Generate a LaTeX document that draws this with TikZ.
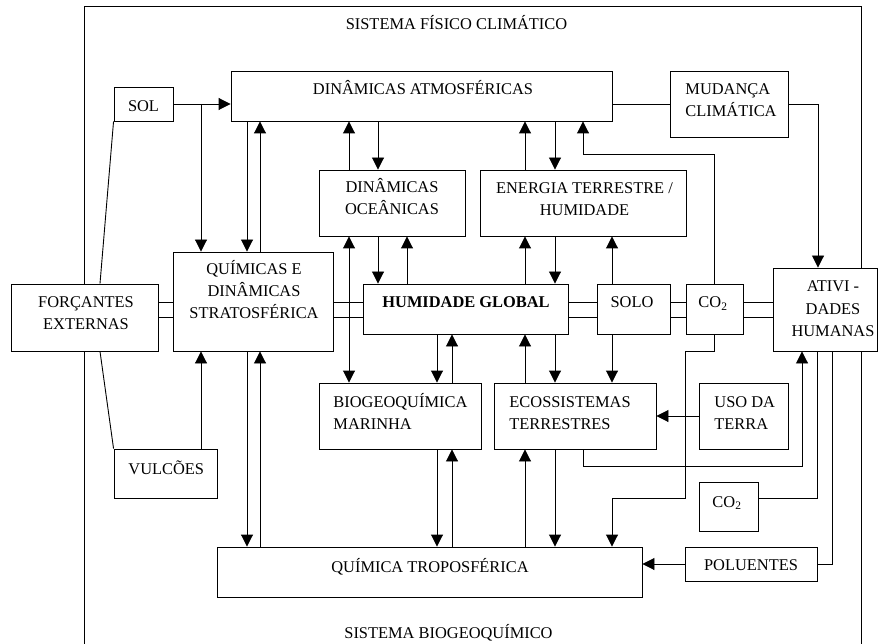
\documentclass[tikz,border=0pt]{standalone}
\usepackage{fontspec}
\setmainfont{Liberation Serif}
\usetikzlibrary{arrows.meta,fit}
\newcommand\txc[1]{\begin{tabular}[t]{@{}c@{}}#1\end{tabular}}
\newcommand\txl[1]{\begin{tabular}[t]{@{}l@{}}#1\end{tabular}}
\begin{document}
\begin{tikzpicture}[x=1pt,y=-1pt,
 line width=0.9pt,
 box/.style={draw, fill=white, inner sep=0pt, line width=0.9pt},
 lbl/.style={inner sep=0pt, anchor=base, font=\fontsize{16.4}{22}\selectfont},
 lbll/.style={lbl, anchor=base west},
 arr/.style={-{Triangle[length=12pt,width=12pt]}},
 darr/.style={{Triangle[length=12pt,width=12pt]}-{Triangle[length=12pt,width=12pt]}},
]
\fill[white] (0,0) rectangle (878,644);
\useasboundingbox (0,0) rectangle (878,644);
% outer frame
\draw (84,644) -- (84,6) -- (861,6) -- (861,644);
% boxes
\node[box, fit={(114,87)(173,121)}] (sol) {};
\node[box, fit={(231,71)(612,121)}] (da) {};
\node[box, fit={(670,71)(788,137)}] (mud) {};
\node[box, fit={(319,170)(465,236)}] (doc) {};
\node[box, fit={(480,170)(686,236)}] (eth) {};
\node[box, fit={(11,284)(158,351)}] (forc) {};
\node[box, fit={(173,252)(333,351)}] (qui) {};
\node[box, fit={(363,284)(568,334)}] (hg) {};
\node[box, fit={(597,284)(670,334)}] (solo) {};
\node[box, fit={(686,284)(743,334)}] (co2a) {};
\node[box, fit={(773,268)(877.5,351)}] (ativ) {};
\node[box, fit={(319,383)(481,449)}] (bio) {};
\node[box, fit={(494,383)(656,449)}] (eco) {};
\node[box, fit={(699,383)(788,449)}] (uso) {};
\node[box, fit={(114,449)(217,498)}] (vul) {};
\node[box, fit={(699,482)(758,531)}] (co2b) {};
\node[box, fit={(685,547)(817,581)}] (pol) {};
\node[box, fit={(217,547)(642,597)}] (qt) {};
% texts
\node[lbl] (t-sfc) at (456.5,30) {SISTEMA FÍSICO CLIMÁTICO};
\node[lbl] (t-sbq) at (448.5,638) {SISTEMA BIOGEOQUÍMICO};
\node[lbl] (t-sol) at (143.5,112) {SOL};
\node[lbl] (t-da) at (423,95) {DINÂMICAS ATMOSFÉRICAS};
\node[lbll] (t-mud) at (685,95) {\txl{MUDANÇA\\CLIMÁTICA}};
\node[lbl] (t-doc) at (392,193) {\txc{DINÂMICAS\\OCEÂNICAS}};
\node[lbl] (t-eth) at (584.5,194) {\txc{ENERGIA TERRESTRE /\\HUMIDADE}};
\node[lbl] (t-qui) at (254,275) {\txc{QUÍMICAS E\\DINÂMICAS\\STRATOSFÉRICA}};
\node[lbl] (t-forc) at (86,308) {\txc{FORÇANTES\\EXTERNAS}};
\node[lbl] (t-hg) at (466,308) {\bfseries HUMIDADE GLOBAL};
\node[lbl] (t-solo) at (632,308) {SOLO};
\node[lbl] (t-co2a) at (713,308) {CO\textsubscript{2}};
\node[lbl] (t-ativ) at (833,292) {\txc{ATIVI -\\DADES\\HUMANAS}};
\node[lbll] (t-bio) at (333,407) {\txl{BIOGEOQUÍMICA\\MARINHA}};
\node[lbll] (t-eco) at (509,407) {\txl{ECOSSISTEMAS\\TERRESTRES}};
\node[lbll] (t-uso) at (714,407) {\txl{USO DA\\TERRA}};
\node[lbll] (t-vul) at (128,474) {VULCÕES};
\node[lbl] (t-co2b) at (727,507) {CO\textsubscript{2}};
\node[lbl] (t-pol) at (751,570) {POLUENTES};
\node[lbl] (t-qt) at (430,572) {QUÍMICA TROPOSFÉRICA};
% connectors
\coordinate (j1) at (201,104);
\draw[arr] (sol.east) -- (da.west |- sol.east);
\draw[arr] (j1) -- (qui.north -| j1);
\draw[arr] (da.south -| 247,0) -- (qui.north -| 247,0);
\draw[arr] (qui.north -| 260,0) -- (da.south -| 260,0);
\draw[arr] (doc.north -| 349,0) -- (da.south -| 349,0);
\draw[arr] (da.south -| 378,0) -- (doc.north -| 378,0);
\draw[arr] (eth.north -| 525,0) -- (da.south -| 525,0);
\draw[arr] (da.south -| 555,0) -- (eth.north -| 555,0);
\draw[arr] (co2a.north) |- (583,154) -- (da.south -| 583,0);
\draw (mud.west) -- (da.east |- mud.west);
\draw[arr] (mud.east) -| (ativ.north -| 818,0);
% double links
\foreach \yy in {302,317}{
  \draw (forc.east |- 0,\yy) -- (qui.west |- 0,\yy);
  \draw (qui.east |- 0,\yy) -- (hg.west |- 0,\yy);
  \draw (hg.east |- 0,\yy) -- (solo.west |- 0,\yy);
  \draw (solo.east |- 0,\yy) -- (co2a.west |- 0,\yy);
  \draw (co2a.east |- 0,\yy) -- (ativ.west |- 0,\yy);
}
\draw[darr] (doc.south -| 349,0) -- (bio.north -| 349,0);
\draw[arr] (doc.south -| 378,0) -- (hg.north -| 378,0);
\draw[arr] (hg.north -| 407,0) -- (doc.south -| 407,0);
\draw[arr] (hg.north -| 525,0) -- (eth.south -| 525,0);
\draw[arr] (eth.south -| 555,0) -- (hg.north -| 555,0);
\draw[arr] (solo.north -| 612,0) -- (eth.south -| 612,0);
\draw[arr] (hg.south -| 437,0) -- (bio.north -| 437,0);
\draw[arr] (bio.north -| 452,0) -- (hg.south -| 452,0);
\draw[arr] (eco.north -| 525,0) -- (hg.south -| 525,0);
\draw[arr] (hg.south -| 555,0) -- (eco.north -| 555,0);
\draw[arr] (solo.south -| 612,0) -- (eco.north -| 612,0);
\draw[arr] (co2a.south) |- (685,351) -- (685,498) -| (qt.north -| 612,0);
\draw[arr] (uso.west) -- (eco.east |- uso.west);
\draw[arr] (eco.south -| 583,0) |- (802,466) -- (ativ.south -| 802,0);
\draw (co2b.east |- 0,498) -| (ativ.south -| 817,0);
\draw[arr] (pol.west) -- (qt.east |- pol.west);
\draw (pol.east) -| (ativ.south -| 832,0);
\draw[arr] (vul.north -| 201,0) -- (qui.south -| 201,0);
\draw[arr] (qui.south -| 247,0) -- (qt.north -| 247,0);
\draw[arr] (qt.north -| 260,0) -- (qui.south -| 260,0);
\draw[arr] (bio.south -| 437,0) -- (qt.north -| 437,0);
\draw[arr] (qt.north -| 452,0) -- (bio.south -| 452,0);
\draw[arr] (qt.north -| 525,0) -- (eco.south -| 525,0);
\draw[arr] (eco.south -| 555,0) -- (qt.north -| 555,0);
\draw (sol.south west) -- (forc.north -| 100,0);
\draw (forc.south -| 100,0) -- (vul.north west);
\end{tikzpicture}
\end{document}
